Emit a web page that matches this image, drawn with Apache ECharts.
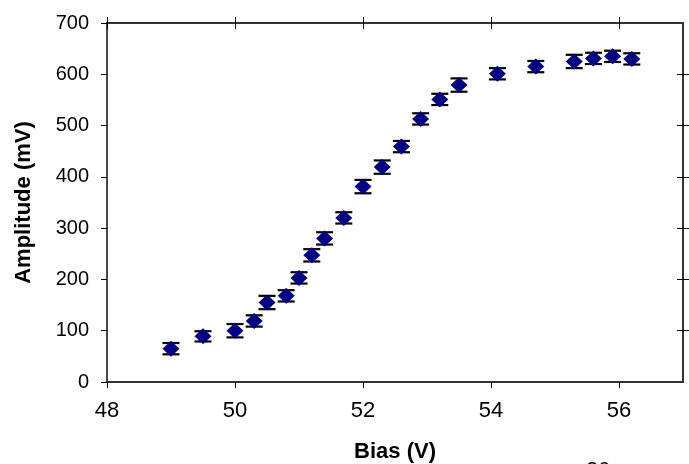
<!DOCTYPE html>
<html>
<head>
<meta charset="utf-8">
<script src="https://cdn.jsdelivr.net/npm/echarts@6/dist/echarts.min.js"></script>
<style>
html,body{margin:0;padding:0;background:#fff;}
#chart{width:689px;height:464px;}
</style>
</head>
<body>
<div id="chart"></div>
<script>
// Data
var bias = [49.0, 49.5, 50.0, 50.3, 50.5, 50.8, 51.0, 51.2, 51.4, 51.7, 52.0, 52.3, 52.6, 52.9, 53.2, 53.5, 54.1, 54.7, 55.3, 55.6, 55.9, 56.2];
var amplitude = [65, 89, 100, 119, 155, 168, 203, 247, 280, 320, 381, 419, 459, 513, 551, 579, 601, 615, 625, 631, 635, 630];
var errors = [11, 10, 13, 11, 13, 11, 11, 12, 12, 11, 13, 13, 11, 11, 11, 13, 11, 11, 13, 11, 11, 11];
var xTicks = [48, 50, 52, 54, 56];
var yTicks = [0, 100, 200, 300, 400, 500, 600, 700];
var yInnerTicks = [100, 200, 300, 400, 500, 600];
var xTitle = 'Bias (V)';
var yTitle = 'Amplitude (mV)';
var pageNumber = '20';

var FONT = '"Liberation Sans", Arial, sans-serif';
var points = bias.map(function (b, i) { return [b, amplitude[i]]; });
var errData = bias.map(function (b, i) { return [b, amplitude[i] - errors[i], amplitude[i] + errors[i]]; });

var axisLine = { show: true, onZero: false, lineStyle: { color: '#333', width: 1.8 } };

var chart = echarts.init(document.getElementById('chart'), null, { renderer: 'canvas' });
chart.setOption({
  animation: false,
  backgroundColor: '#fff',
  grid: { left: 107, right: 6, top: 23, bottom: 82, containLabel: false, outerBoundsMode: 'none' },
  xAxis: [
    {
      type: 'value', position: 'bottom', min: 48, max: 57, interval: 2,
      axisLine: axisLine,
      axisTick: { show: true, inside: false, length: 6, customValues: xTicks, lineStyle: { color: '#000', width: 1 } },
      axisLabel: { show: true, customValues: xTicks, fontSize: 22, color: '#000', fontFamily: FONT, margin: 18 },
      splitLine: { show: false },
      name: xTitle, nameLocation: 'middle', nameGap: 59,
      nameTextStyle: { fontSize: 22, fontWeight: 'bold', color: '#000', fontFamily: FONT }
    },
    {
      type: 'value', position: 'top', min: 48, max: 57, interval: 2,
      axisLine: axisLine,
      axisTick: { show: true, inside: true, length: 6, customValues: xTicks, lineStyle: { color: '#000', width: 1 } },
      axisLabel: { show: false }, splitLine: { show: false }
    },
    {
      type: 'value', position: 'top', min: 48, max: 57, interval: 2,
      axisLine: axisLine,
      axisTick: { show: true, inside: false, length: 6, customValues: xTicks, lineStyle: { color: '#000', width: 1 } },
      axisLabel: { show: false }, splitLine: { show: false }
    }
  ],
  yAxis: [
    {
      type: 'value', position: 'left', min: 0, max: 700, interval: 100,
      axisLine: axisLine,
      axisTick: { show: true, inside: false, length: 6, customValues: yTicks, lineStyle: { color: '#000', width: 1 } },
      axisLabel: { show: true, customValues: yTicks, fontSize: 20, color: '#000', fontFamily: FONT, margin: 18 },
      splitLine: { show: false },
      name: yTitle, nameLocation: 'middle', nameGap: 72, nameRotate: 90,
      nameTextStyle: { fontSize: 22, fontWeight: 'bold', color: '#000', fontFamily: FONT }
    },
    {
      type: 'value', position: 'right', min: 0, max: 700, interval: 100,
      axisLine: axisLine,
      axisTick: { show: true, inside: true, length: 6, customValues: yInnerTicks, lineStyle: { color: '#000', width: 1 } },
      axisLabel: { show: false }, splitLine: { show: false }
    },
    {
      type: 'value', position: 'right', min: 0, max: 700, interval: 100,
      axisLine: axisLine,
      axisTick: { show: true, inside: false, length: 6, customValues: yInnerTicks, lineStyle: { color: '#000', width: 1 } },
      axisLabel: { show: false }, splitLine: { show: false }
    }
  ],
  series: [
    {
      type: 'custom',
      xAxisIndex: 0, yAxisIndex: 0,
      z: 2,
      data: errData,
      renderItem: function (params, api) {
        var x = api.value(0);
        var lo = api.coord([x, api.value(1)]);
        var hi = api.coord([x, api.value(2)]);
        var hw = 8.5;
        var st = { stroke: '#000', lineWidth: 2.2 };
        return {
          type: 'group',
          children: [
            { type: 'line', shape: { x1: lo[0], y1: lo[1], x2: hi[0], y2: hi[1] }, style: { stroke: '#000', lineWidth: 1 } },
            { type: 'line', shape: { x1: lo[0] - hw, y1: lo[1], x2: lo[0] + hw, y2: lo[1] }, style: st },
            { type: 'line', shape: { x1: hi[0] - hw, y1: hi[1], x2: hi[0] + hw, y2: hi[1] }, style: st }
          ]
        };
      }
    },
    {
      type: 'scatter',
      xAxisIndex: 0, yAxisIndex: 0,
      z: 5,
      symbol: 'diamond',
      symbolSize: [17, 16],
      itemStyle: { color: '#000080', opacity: 1 },
      data: points
    }
  ],
  graphic: [
    {
      type: 'text', left: 586, top: 460,
      style: { text: pageNumber, fontSize: 22, fill: '#000', fontFamily: FONT }
    }
  ]
});
</script>
</body>
</html>
